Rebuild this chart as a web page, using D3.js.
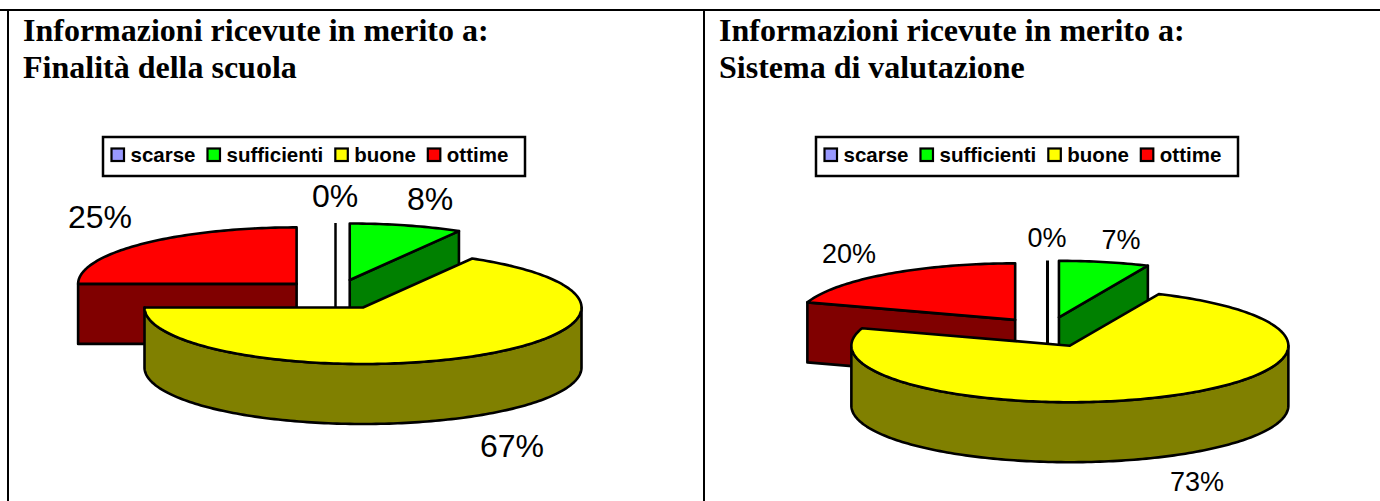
<!DOCTYPE html>
<html><head><meta charset="utf-8">
<script src="https://cdn.jsdelivr.net/npm/d3@7"></script>
<style>html,body{margin:0;padding:0;background:#fff}svg{display:block}</style>
</head><body><svg id="c" width="1380" height="501"></svg>
<script>
const categories = ["scarse","sufficienti","buone","ottime"];
const topColors = ["#9999ff","#00ff00","#ffff00","#ff0000"];
const sideColors = ["#4c4c80","#008000","#808000","#800000"];
const titleLine1 = "Informazioni ricevute in merito a:";
const leftTitle = "Finalità della scuola";
const rightTitle = "Sistema di valutazione";
const leftValues = [0, 8.33, 66.67, 25];
const rightValues = [0, 6.67, 73.33, 20];

const panels = [
  {values:leftValues, title:leftTitle, tx:23, cx:335.5, cy:294.5, font:32, zero:2.5,
   legend:{x:103,y:137,w:422,h:39}, labels:[[335,207],[430,210],[512,457],[100,228]]},
  {values:rightValues, title:rightTitle, tx:719, cx:1047.5, cy:332, font:27, zero:3,
   legend:{x:816,y:137,w:422,h:39}, labels:[[1047,247],[1121,249],[1197,491],[849,263]]}
];
const RX=218.5, RY=56.5, DEPTH=60, EX=55, EY=15;
const svg=d3.select("#c");
const pct=d3.format(".0f");
const line=d3.line();

[[0,10,1380,10],[8,10,8,501],[704,10,704,501]].forEach(([x1,y1,x2,y2])=>{
  svg.append("line").attr("x1",x1).attr("y1",y1).attr("x2",x2).attr("y2",y2).attr("stroke","#000").attr("stroke-width",2);
});

panels.forEach(p=>{
  const g=svg.append("g");
  const ttl=g.append("g").attr("font-family","Liberation Serif").attr("font-weight","bold").attr("font-size",32).attr("fill","#000");
  ttl.append("text").attr("x",p.tx).attr("y",41).text(titleLine1);
  ttl.append("text").attr("x",p.tx).attr("y",78).text(p.title);

  const L=p.legend;
  g.append("rect").attr("x",L.x).attr("y",L.y).attr("width",L.w).attr("height",L.h).attr("fill","#fff").attr("stroke","#000").attr("stroke-width",2.5);
  let lx=L.x+7.5;
  categories.forEach((c,i)=>{
    g.append("rect").attr("x",lx+1).attr("y",L.y+11.5).attr("width",12.5).attr("height",12.5).attr("fill",topColors[i]).attr("stroke","#000").attr("stroke-width",2.2);
    const t=g.append("text").attr("x",lx+20).attr("y",L.y+25).attr("font-family","Liberation Sans").attr("font-weight","bold").attr("font-size",20.5).attr("fill","#000").text(c);
    lx+=20+t.node().getComputedTextLength()+11;
  });

  const arcs=d3.pie().sort(null).value(d=>d)(p.values);
  const toXY=(cx,cy,a,dy=0)=>[cx+RX*Math.sin(a), cy-RY*Math.cos(a)+dy];
  const samples=(cx,cy,a0,a1,dy=0)=>{
    const n=Math.max(2,Math.ceil(Math.abs(a1-a0)/0.02));
    return d3.range(n+1).map(k=>toXY(cx,cy,a0+(a1-a0)*k/n,dy));
  };
  const sty=(s,fill)=>s.attr("fill",fill).attr("stroke","#000").attr("stroke-width",2.6).attr("stroke-linejoin","round");
  [3,0,1,2].forEach(i=>{
    const d=arcs[i], mid=(d.startAngle+d.endAngle)/2;
    const cx=p.cx+EX*Math.sin(mid), cy=p.cy-EY*Math.cos(mid);
    const a0=d.startAngle,a1=d.endAngle;
    const s=g.append("g");
    if(a1-a0<1e-6){
      s.append("path").attr("d",line([toXY(cx,cy,a0),[cx,cy+DEPTH]])).attr("fill","none").attr("stroke","#000").attr("stroke-width",p.zero);
      return;
    }
    if(Math.sin(a0)<0){
      const q=toXY(cx,cy,a0);
      sty(s.append("path").attr("d",line([[cx,cy],q,[q[0],q[1]+DEPTH],[cx,cy+DEPTH]])+"Z"),sideColors[i]);
    }
    if(Math.sin(a1)>0){
      const q=toXY(cx,cy,a1);
      sty(s.append("path").attr("d",line([[cx,cy],q,[q[0],q[1]+DEPTH],[cx,cy+DEPTH]])+"Z"),sideColors[i]);
    }
    const w0=Math.max(a0,Math.PI/2), w1=Math.min(a1,Math.PI*1.5);
    if(w1>w0){
      const top=samples(cx,cy,w0,w1), bot=samples(cx,cy,w1,w0,DEPTH);
      sty(s.append("path").attr("d",line(top.concat(bot))+"Z"),sideColors[i]);
    }
    sty(s.append("path").attr("d",line([[cx,cy]].concat(samples(cx,cy,a0,a1)))+"Z"),topColors[i]);
  });

  p.values.forEach((v,i)=>{
    g.append("text").attr("x",p.labels[i][0]).attr("y",p.labels[i][1]).attr("text-anchor","middle")
      .attr("font-family","Liberation Sans").attr("font-size",p.font).attr("fill","#000").text(pct(v)+"%");
  });
});
</script></body></html>
